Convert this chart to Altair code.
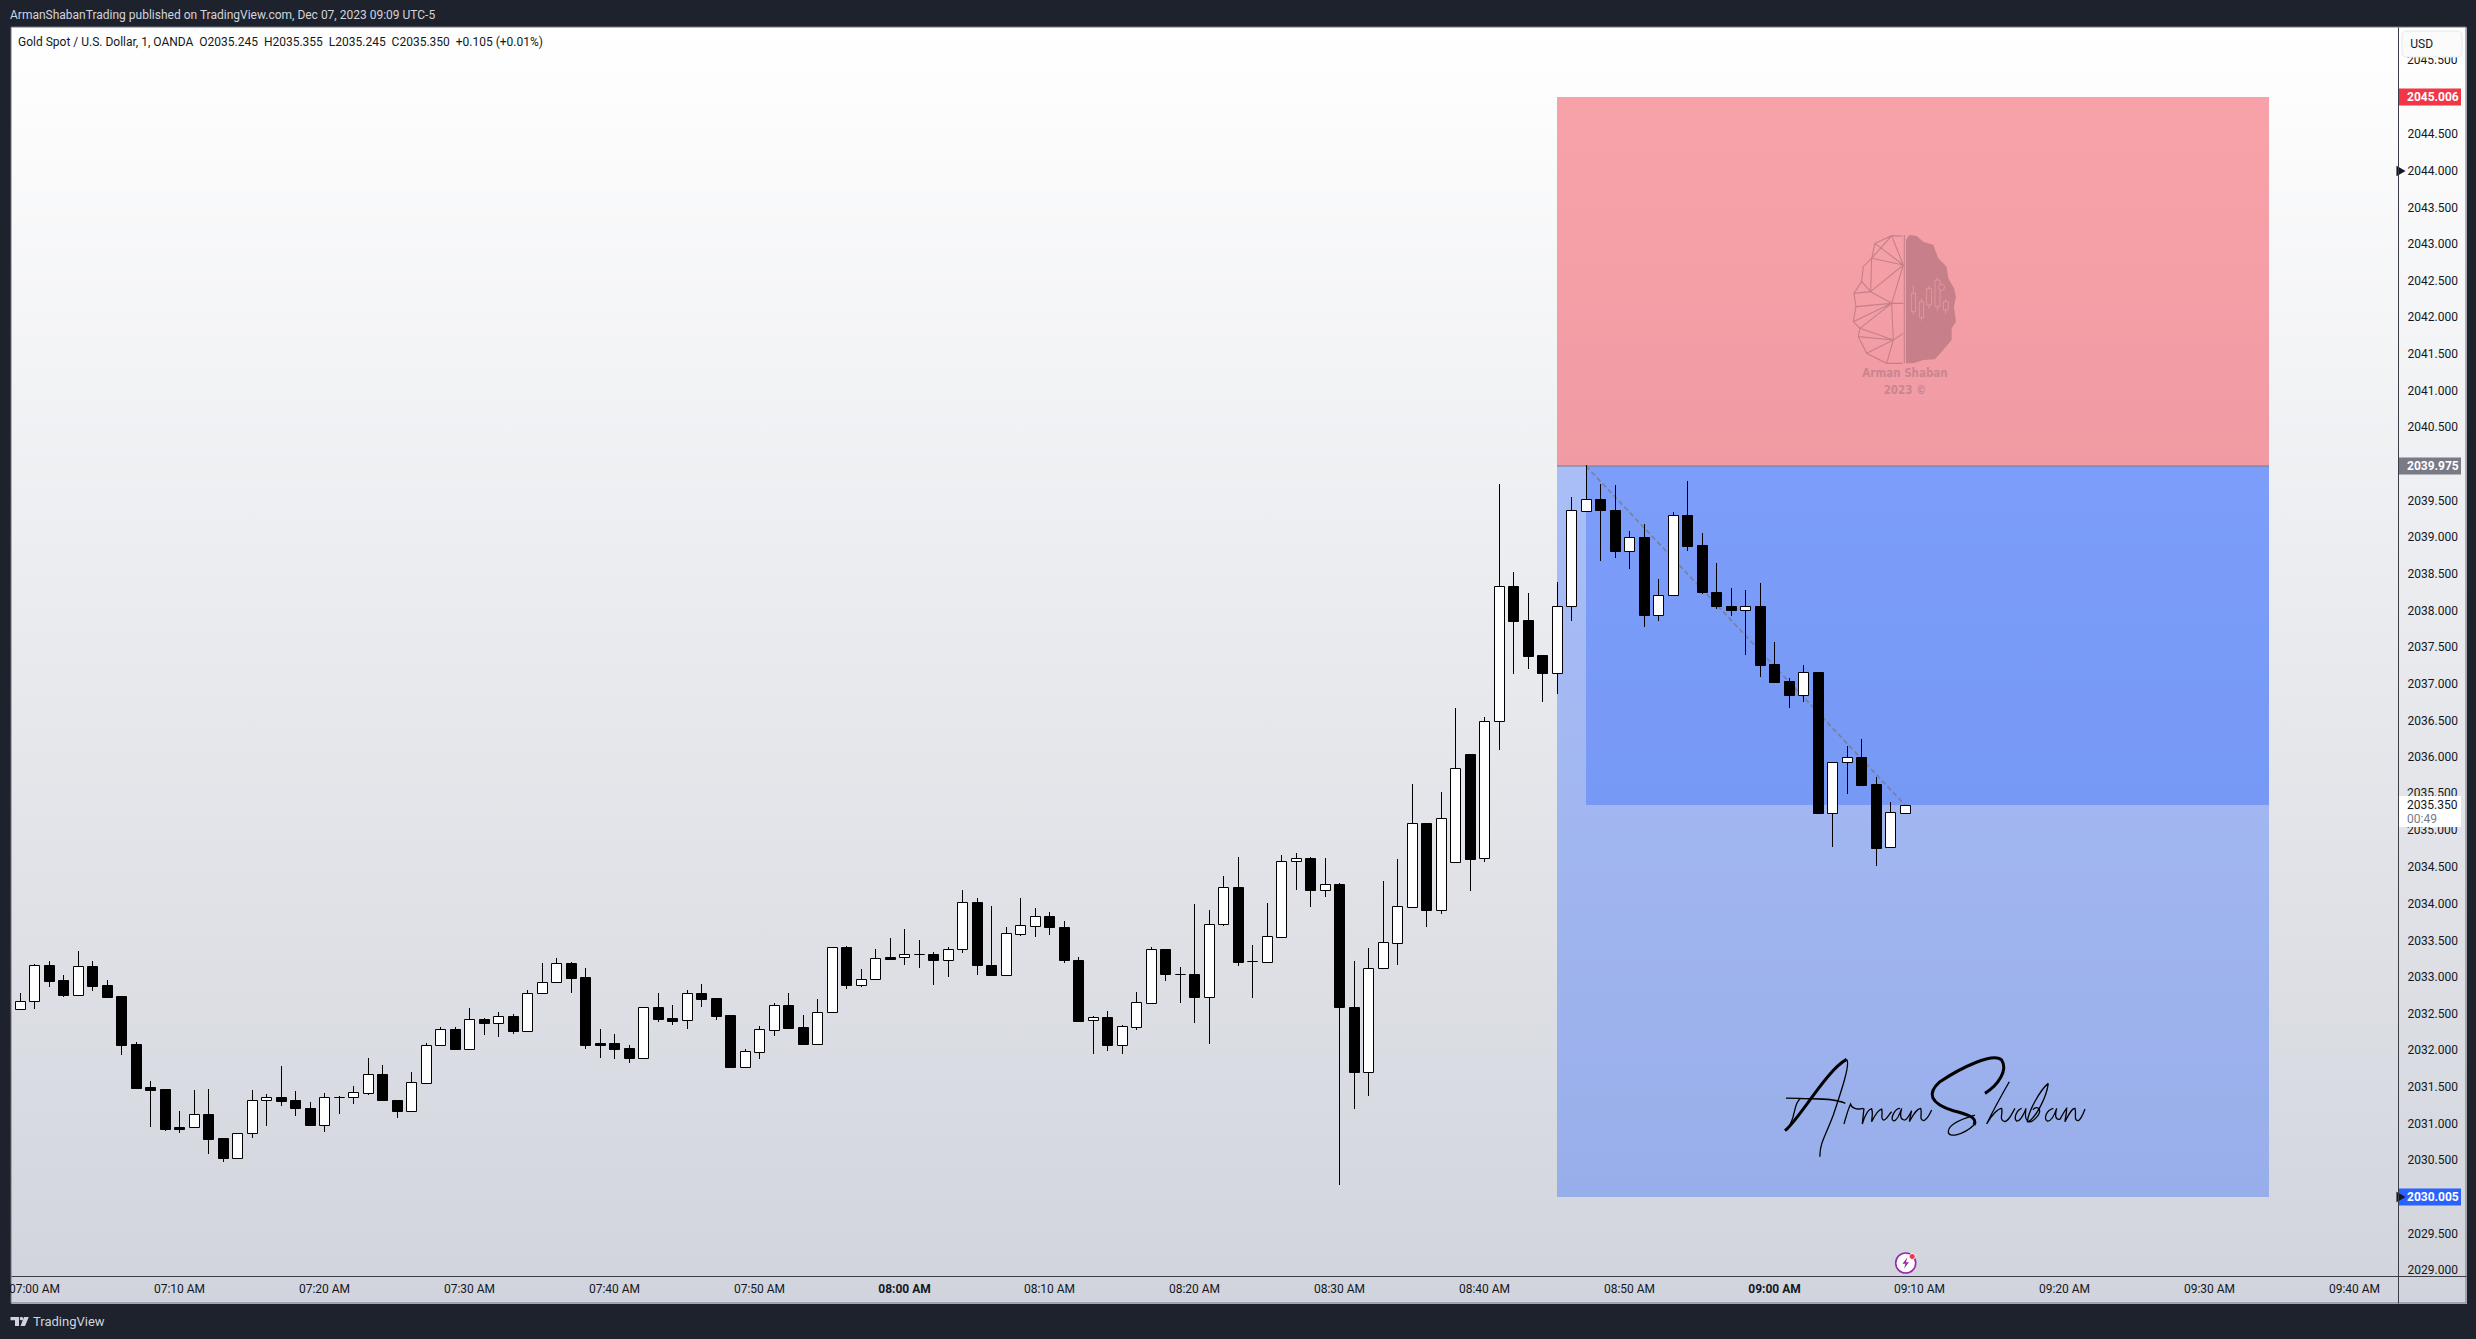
import re
import altair as alt
import pandas as pd

# ---------- data (prices) ----------
FIRST_MINUTE = -1  # minutes after 07:00 of the first candle
OPEN = [2032.57,2032.68,2033.16,2032.96,2032.76,2033.15,2032.89,2032.74,2032.09,2031.50,2031.47,2030.96,2030.95,2031.13,2030.80,2030.54,2030.88,2031.33,2031.36,2031.32,2031.22,2030.99,2031.36,2031.36,2031.42,2031.68,2031.33,2031.18,2031.56,2032.07,2032.29,2032.02,2032.43,2032.38,
        2032.47,2032.27,2032.79,2032.94,2033.19,2033.00,2032.10,2032.10,2032.03,2031.90,2032.60,2032.44,2032.41,2032.78,2032.71,2032.48,2031.78,2031.98,2032.28,2032.62,2032.32,2032.09,2032.53,2033.41,2032.90,2032.98,2033.27,2033.27,2033.32,2033.32,2033.24,2033.38,2034.03,2033.17,
        2033.03,2033.59,2033.70,2033.84,2033.69,2033.24,2032.41,2032.45,2032.08,2032.32,2032.65,2033.39,2033.05,2033.05,2032.73,2033.73,2034.23,2033.22,2033.21,2033.55,2034.58,2034.62,2034.19,2034.27,2032.60,2031.71,2033.13,2033.47,2033.96,2035.10,2033.92,2034.57,2036.05,2034.62,
        2036.49,2038.33,2037.87,2037.39,2037.15,2038.07,2039.36,2039.53,2039.38,2038.82,2039.00,2037.94,2038.22,2039.31,2038.89,2038.26,2038.07,2038.01,2038.07,2037.27,2037.04,2036.85,2037.17,2035.24,2035.93,2036.00,2035.63,2034.77,2035.245]
HIGH = [2032.78,2033.18,2033.22,2033.03,2033.36,2033.22,2032.96,2032.74,2032.12,2031.58,2031.47,2031.17,2031.46,2031.47,2030.80,2030.88,2031.46,2031.41,2031.79,2031.45,2031.30,2031.42,2031.38,2031.52,2031.90,2031.80,2031.33,2031.71,2032.10,2032.32,2032.32,2032.58,2032.44,2032.53,
        2032.50,2032.82,2033.19,2033.26,2033.21,2033.12,2032.29,2032.22,2032.07,2032.60,2032.78,2032.62,2032.82,2032.91,2032.71,2032.48,2032.02,2032.33,2032.65,2032.78,2032.48,2032.70,2033.41,2033.42,2033.11,2033.38,2033.53,2033.66,2033.51,2033.34,2033.41,2034.19,2034.08,2033.97,
        2033.68,2034.08,2033.94,2033.89,2033.77,2033.28,2032.47,2032.54,2032.35,2032.80,2033.41,2033.39,2033.14,2034.00,2033.92,2034.38,2034.64,2033.44,2034.01,2034.67,2034.69,2034.64,2034.63,2034.29,2033.22,2033.40,2034.31,2034.61,2035.64,2035.10,2035.53,2036.67,2036.05,2036.55,
        2039.73,2038.53,2038.24,2037.39,2038.39,2039.55,2039.99,2039.73,2039.71,2039.09,2039.18,2038.43,2039.35,2039.77,2039.06,2038.65,2038.31,2038.28,2038.38,2037.57,2037.08,2037.26,2037.17,2035.93,2036.15,2036.25,2035.73,2035.39,2035.355]
LOW = [2032.57,2032.57,2032.87,2032.73,2032.76,2032.81,2032.72,2031.94,2031.49,2030.96,2030.90,2030.87,2030.95,2030.59,2030.48,2030.54,2030.81,2030.97,2031.24,2031.11,2030.98,2030.89,2031.13,2031.27,2031.39,2031.33,2031.08,2031.18,2031.54,2032.07,2032.02,2032.02,2032.21,2032.18,
       2032.22,2032.27,2032.77,2032.92,2032.78,2032.02,2031.90,2031.88,2031.83,2031.90,2032.39,2032.35,2032.29,2032.59,2032.42,2031.77,2031.78,2031.88,2032.20,2032.31,2032.09,2032.09,2032.53,2032.84,2032.87,2032.98,2033.25,2033.17,2033.12,2032.89,2033.00,2033.33,2033.03,2033.03,
       2033.03,2033.56,2033.55,2033.58,2033.19,2032.40,2031.95,2031.99,2031.95,2032.28,2032.65,2032.95,2032.65,2032.37,2032.09,2033.70,2033.15,2032.72,2033.21,2033.55,2034.19,2033.96,2034.09,2030.17,2031.20,2031.38,2033.13,2033.17,2033.94,2033.68,2033.86,2034.57,2034.18,2034.57,
       2036.10,2037.14,2037.20,2036.75,2036.86,2037.86,2039.36,2038.68,2038.72,2038.57,2037.78,2037.86,2038.20,2038.81,2038.23,2038.02,2037.93,2037.40,2037.10,2037.01,2036.67,2036.75,2035.24,2034.78,2035.50,2035.62,2034.52,2034.77,2035.245]
CLOSE = [2032.68,2033.16,2032.95,2032.76,2033.15,2032.88,2032.73,2032.08,2031.49,2031.46,2030.93,2030.93,2031.13,2030.79,2030.53,2030.88,2031.33,2031.36,2031.31,2031.22,2030.98,2031.36,2031.36,2031.43,2031.68,2031.33,2031.17,2031.57,2032.07,2032.29,2032.02,2032.43,2032.38,2032.47,
         2032.27,2032.79,2032.94,2033.19,2032.99,2032.07,2032.07,2032.02,2031.90,2032.60,2032.43,2032.40,2032.78,2032.70,2032.47,2031.77,2031.99,2032.29,2032.62,2032.31,2032.09,2032.53,2033.41,2032.89,2032.98,2033.26,2033.25,2033.32,2033.32,2033.23,2033.38,2034.03,2033.17,2033.03,
         2033.60,2033.71,2033.84,2033.68,2033.23,2032.40,2032.45,2032.08,2032.33,2032.66,2033.39,2033.04,2033.05,2032.73,2033.73,2034.23,2033.21,2033.22,2033.56,2034.58,2034.62,2034.19,2034.27,2032.59,2031.71,2033.13,2033.48,2033.97,2035.10,2033.92,2035.17,2035.85,2034.61,2036.49,
         2038.33,2037.86,2037.38,2037.15,2038.07,2039.37,2039.53,2039.37,2038.81,2039.00,2037.94,2038.22,2039.31,2038.88,2038.25,2038.06,2038.01,2038.07,2037.26,2037.03,2036.85,2037.17,2035.24,2035.93,2036.00,2035.62,2034.76,2035.25,2035.35]
PRICE_TICKS = [2029 + 0.5 * i for i in range(34)]
PRICE_TICKS_UNDER_TAGS = [2045.5, 2035.5, 2035.0]   # partly hidden by the USD button and the last-price tag
PRICE_TICKS_AXIS = [p for p in PRICE_TICKS if p not in (2045.0, 2045.5, 2040.0, 2035.5, 2035.0, 2030.0)]
TIME_TICK_MINUTES = [10 * i for i in range(17)]
TIME_TICK_LABELS = ["07:00 AM","07:10 AM","07:20 AM","07:30 AM","07:40 AM","07:50 AM","08:00 AM","08:10 AM","08:20 AM","08:30 AM","08:40 AM","08:50 AM","09:00 AM","09:10 AM","09:20 AM","09:30 AM","09:40 AM"]
ZONE_LEFT, ZONE_INNER, ZONE_RIGHT = 105, 107, 154.15
STOP, ENTRY, CLOSE_NOW, TARGET = 2045.006, 2039.975, 2035.35, 2030.005
LAST_MINUTE = 129
HEADER = "ArmanShabanTrading published on TradingView.com, Dec 07, 2023 09:09 UTC-5"
LEGEND = "Gold Spot / U.S. Dollar, 1, OANDA\u00a0\u00a0O2035.245\u00a0\u00a0H2035.355\u00a0\u00a0L2035.245\u00a0\u00a0C2035.350\u00a0\u00a0+0.105 (+0.01%)"

FONT = "Roboto"
FS = 12
W, H = 2455, 1276
ox, oy = 11, 27  # page position of the plot origin

n = len(OPEN)
df = pd.DataFrame({"m": [FIRST_MINUTE + i for i in range(n)], "o": OPEN, "h": HIGH, "l": LOW, "c": CLOSE})
df["dir"] = ["up" if c >= o else "down" for o, c in zip(OPEN, CLOSE)]

xs = alt.Scale(domain=[-23 / 14.5, (W - 23) / 14.5], zero=False, nice=False, round=True, padding=0)
ys = alt.Scale(domain=[2028.555, 2045.963], zero=False, nice=False, round=True, padding=0)
X = alt.X("m:Q", scale=xs, axis=None)
Y = alt.Y("y:Q", scale=ys, axis=None)

def px(v): return alt.value(v - ox)
def py(v): return alt.value(v - oy)

def label(text, x, y, size=FS, color="#131722", align="left", weight="normal", font=FONT, opacity=1):
    return alt.Chart(pd.DataFrame({"t": [text]})).mark_text(
        align=align, baseline="middle", fontSize=size, color=color, fontWeight=weight, font=font, opacity=opacity
    ).encode(x=px(x), y=py(y), text="t:N")

def norm_path(s, cx, cy, k):
    out, is_x = [], True
    for tok in re.findall(r"[A-Za-z]|-?[\d.]+", s):
        if tok.isalpha():
            out.append(tok); is_x = True
        else:
            v = float(tok)
            out.append(f"{(v - cx) / k:.4f}" if is_x else f"{(v - cy) / k:.4f}")
            is_x = not is_x
    return " ".join(out)

def shape(path, x, y, size, fill=None, stroke=None, sw=1.0, opacity=1.0):
    kw = dict(shape=path, size=size, opacity=opacity, strokeWidth=sw, filled=fill is not None)
    if fill is not None:
        kw["fill"] = fill
        kw["stroke"] = stroke if stroke else fill
    else:
        kw["stroke"] = stroke
        kw["fill"] = "transparent"
    return alt.Chart(pd.DataFrame({"a": [0]})).mark_point(**kw).encode(x=px(x), y=py(y))

# ---------- panel gradient ----------
panel = alt.Chart(pd.DataFrame({"a": [0]})).mark_rect(
    fill=alt.LinearGradient(gradient="linear", x1=0, y1=0, x2=0, y2=1,
                            stops=[alt.GradientStop(offset=0, color="#ffffff"), alt.GradientStop(offset=1, color="#d1d4dc")]),
    stroke="#70737d", strokeWidth=1,
).encode(x=alt.value(0), x2=alt.value(W), y=alt.value(0), y2=alt.value(H))

# ---------- axes ----------
time_expr = str(TIME_TICK_LABELS) + "[datum.value/10]"
axis_layer = alt.Chart(pd.DataFrame({"m": TIME_TICK_MINUTES[:1], "y": PRICE_TICKS[:1]})).mark_rule(opacity=0).encode(
    x=alt.X("m:Q", scale=xs, axis=alt.Axis(
        values=TIME_TICK_MINUTES, labelExpr=time_expr, title=None, grid=False, ticks=False,
        orient="bottom", offset=-27, domainColor="#3b3e46", domainWidth=1, zindex=1,
        labelFont=FONT, labelFontSize=FS, labelColor="#131722", labelPadding=7,
        labelOverlap=False, labelFlush=False, labelBound=False,
        labelFontWeight={"condition": {"test": "datum.value==60||datum.value==120", "value": "bold"}, "value": "normal"},
    )),
    y=alt.Y("y:Q", scale=ys, axis=alt.Axis(
        values=PRICE_TICKS_AXIS, format=".3f", title=None, grid=False, ticks=False,
        orient="right", offset=-(W - 2387), domainColor="#3b3e46", domainWidth=1, zindex=1,
        labelFont=FONT, labelFontSize=FS, labelColor="#131722", labelPadding=9, labelOffset=-1,
        labelOverlap=False, labelFlush=False, labelBound=False,
    )),
)
wicks = alt.Chart(df).mark_rule(color="black", strokeWidth=1, xOffset=0.5).encode(
    x=X, y=alt.Y("l:Q", scale=ys, axis=None), y2="h:Q")
bodies = alt.Chart(df).mark_bar(size=10, stroke="black", strokeWidth=1, orient="vertical",
                                xOffset=0.5, yOffset=0.5, y2Offset=0.5).encode(
    x=X,
    y=alt.Y("o:Q", scale=ys, axis=None, stack=None),
    y2="c:Q",
    color=alt.Color("dir:N", scale=alt.Scale(domain=["up", "down"], range=["#ffffff", "#000000"]), legend=None),
)

# ---------- price labels lying under the tags ----------
under = alt.Chart(pd.DataFrame({"y": PRICE_TICKS_UNDER_TAGS, "t": [f"{p:.3f}" for p in PRICE_TICKS_UNDER_TAGS]})).mark_text(
    align="left", baseline="middle", font=FONT, fontSize=FS, color="#131722", dy=-1).encode(x=px(2407), y=Y, text="t:N")

# ---------- position tool zones ----------
def zone(x0, x1, lo, hi, color, op):
    d = pd.DataFrame({"x0": [x0], "x1": [x1], "lo": [lo], "hi": [hi]})
    return alt.Chart(d).mark_rect(color=color, opacity=op).encode(
        x=alt.X("x0:Q", scale=xs, axis=None), x2="x1:Q",
        y=alt.Y("lo:Q", scale=ys, axis=None), y2="hi:Q")

red = zone(ZONE_LEFT, ZONE_RIGHT, ENTRY, STOP, "#f23645", 0.46)
blue = zone(ZONE_LEFT, ZONE_RIGHT, TARGET, ENTRY, "#2962ff", 0.35)
blue2 = zone(ZONE_INNER, ZONE_RIGHT, CLOSE_NOW, ENTRY, "#2962ff", 0.35)
entry_line = alt.Chart(pd.DataFrame({"x0": [ZONE_LEFT], "x1": [ZONE_RIGHT], "y": [ENTRY]})).mark_rule(
    color="#787b86", strokeWidth=1).encode(x=alt.X("x0:Q", scale=xs, axis=None), x2="x1:Q", y=Y)
dash = alt.Chart(pd.DataFrame({"m": [ZONE_INNER, LAST_MINUTE], "y": [ENTRY, CLOSE_NOW]})).mark_line(
    color="#787b86", strokeWidth=1.6, strokeDash=[5, 3], opacity=0.85).encode(x=X, y=Y)

# ---------- watermark logo ----------
LOGO = (463, 297, 195)
logo_fill = "M468 120 L478 105 L500 108 L520 125 L550 135 L565 175 L590 200 L595 235 L612 265 L618 290 L612 320 L618 365 L605 385 L605 420 L575 455 L555 478 L520 480 L490 490 L468 490 Z"
logo_net = ("M458 108 L425 107 L375 130 L365 175 L340 200 L335 245 L312 280 L318 320 L310 365 L330 385 L325 410 L350 460 L410 490 L458 490 "
            "M463 105 L463 490 M425 107 L365 175 M375 130 L460 195 M425 107 L460 195 M365 175 L460 195 M365 175 L362 275 M460 195 L362 275 "
            "M460 195 L425 310 M362 275 L425 310 M312 280 L362 275 M335 245 L362 275 M318 320 L425 310 M425 310 L460 310 M425 310 L330 385 "
            "M310 365 L425 310 M425 310 L430 420 M430 420 L460 400 M330 385 L430 420 M430 420 L350 460 M430 420 L410 490 M325 410 L430 420")
logo_candles = ("M484 280 L497 280 L497 335 L484 335 Z M490 255 L490 280 M490 335 L490 345 "
                "M508 305 L521 305 L521 352 L508 352 Z M514 296 L514 305 M514 352 L514 362 "
                "M530 265 L545 265 L545 315 L530 315 Z M537 258 L537 265 M537 315 L537 326 "
                "M555 240 L570 240 L570 320 L555 320 Z M562 232 L562 240 M562 320 L562 332 "
                "M580 305 L595 305 L595 330 L580 330 Z M587 298 L587 305 M587 330 L587 342")
logo_cx, logo_cy = 1904.3, 299
logo_size = (2 * 65) ** 2
WM = "DejaVu Sans Condensed, Roboto"
logo_layers = [
    shape(norm_path(logo_fill, *LOGO), logo_cx, logo_cy, logo_size, fill="#c77f89", sw=0),
    shape(norm_path(logo_net, *LOGO), logo_cx, logo_cy, logo_size, stroke="#c48089", sw=1.1),
    shape(norm_path(logo_candles, *LOGO), logo_cx, logo_cy, logo_size, stroke="#eb9aa4", sw=0.8),
    shape("M -1 0 A 1 1 0 1 1 1 0 A 1 1 0 1 1 -1 0 Z", 1941.6, 287.3, 36, fill="#c77f89", stroke="#eb9aa4", sw=0.8),
    label("Arman Shaban", 1905, 374, size=11.5, color="#c98690", align="center", weight="bold", font=WM),
    label("2023 \u00a9", 1905, 391, size=11.5, color="#c98690", align="center", weight="bold", font=WM),
]

# ---------- hand signature ----------
SIG = (700, 200, 455)
sig_thick = ("M255 272 C300 235 380 90 440 58 "
             "M855 160 C895 135 925 90 905 60 C880 35 780 85 720 125 C680 160 690 190 760 212 C800 222 835 232 822 255")
sig_thin = ("M440 58 C452 70 425 150 400 225 C380 280 358 310 360 350 "
            "M258 174 L300 175 C340 178 400 172 436 190 M300 176 C280 195 290 215 270 255 "
            "M432 252 C440 225 445 205 452 192 C455 205 470 210 490 205 "
            "M492 205 C490 225 488 240 487 252 C495 225 505 208 515 206 C520 220 515 235 515 245 C525 225 535 208 545 207 C550 225 540 235 550 240 C560 240 565 225 575 215 "
            "M600 205 C585 205 570 235 580 242 C590 245 600 220 605 205 C600 225 600 240 615 240 C625 235 630 222 635 212 "
            "M635 212 C632 225 630 235 628 245 C640 225 650 205 662 205 C668 220 655 240 672 242 C685 235 690 220 695 210 "
            "M822 255 C790 285 745 295 745 275 C745 250 790 235 825 225 "
            "M928 125 C905 165 880 210 860 252 C875 225 895 205 905 205 C910 220 895 240 915 245 C930 240 935 220 945 205 "
            "M965 205 C950 210 940 235 950 243 C962 245 975 215 978 205 C975 225 975 240 985 243 "
            "M1045 130 C1020 150 985 215 982 245 C1000 250 1030 215 1015 205 C1010 200 1000 205 1000 210 M1045 130 C1040 170 1010 230 985 245 "
            "M1060 205 C1040 210 1030 235 1042 243 C1055 245 1065 220 1070 205 C1065 225 1065 240 1080 238 "
            "M1080 238 C1090 220 1095 210 1100 205 C1100 225 1095 235 1095 245 C1105 225 1115 205 1125 205 C1130 225 1120 240 1135 242 C1145 235 1150 220 1155 207")
sig_cx, sig_cy = 1933.3, 1106.7
sig_size = (2 * 455 / 3) ** 2
sig_layers = [
    shape(norm_path(sig_thin, *SIG), sig_cx, sig_cy, sig_size, stroke="black", sw=1.3),
    shape(norm_path(sig_thick, *SIG), sig_cx, sig_cy, sig_size, stroke="black", sw=3.0),
]

# ---------- right-hand price tags ----------
def tag(price, fill, text, h=17, off=0.0, tcolor="white", weight="bold"):
    d = pd.DataFrame({"y": [price], "t": [text]})
    r = alt.Chart(d).mark_rect(color=fill, height=h, yOffset=off).encode(x=px(2398), x2=px(2461), y=Y)
    t = alt.Chart(d).mark_text(align="left", baseline="middle", font=FONT, fontSize=FS, color=tcolor, fontWeight=weight).encode(
        x=px(2407), y=Y, text="t:N")
    return [r, t]

tags = (tag(STOP, "#f23645", "2045.006") + tag(ENTRY, "#787b86", "2039.975") + tag(TARGET, "#2962ff", "2030.005")
        + tag(CLOSE_NOW, "#ffffff", "2035.350", h=31, off=6.5, tcolor="#131722", weight="normal"))
countdown = alt.Chart(pd.DataFrame({"y": [CLOSE_NOW], "t": ["00:49"]})).mark_text(
    align="left", baseline="middle", font=FONT, fontSize=FS, color="#787b86", dy=14).encode(x=px(2407), y=Y, text="t:N")
markers = alt.Chart(pd.DataFrame({"y": [2044.0, TARGET]})).mark_point(
    shape="triangle-right", filled=True, color="#131722", size=110, opacity=1).encode(x=px(2401), y=Y)

usd_box = alt.Chart(pd.DataFrame({"a": [0]})).mark_rect(
    fill="#fbfbfc", stroke="#e6e8ee", strokeWidth=1, cornerRadius=4).encode(x=px(2402), x2=px(2462), y=py(31), y2=py(57))

# ---------- small icon under the candles ----------
icon_x, icon_y = 1905.7, 1263
icon = [
    shape("M -1 0 A 1 1 0 1 1 1 0 A 1 1 0 1 1 -1 0 Z", icon_x, icon_y, 400, fill="#ffffff", stroke="#9c27b0", sw=1.6),
    shape("M 0.3 -1 L -0.6 0.15 L -0.05 0.15 L -0.3 1 L 0.6 -0.15 L 0.05 -0.15 Z", icon_x, icon_y, 120, fill="#9c27b0", sw=0),
    shape("M -1 0 A 1 1 0 1 1 1 0 A 1 1 0 1 1 -1 0 Z", icon_x + 6.5, icon_y - 6.5, 36, fill="#f23645", stroke="#ffffff", sw=1),
]

# ---------- footer TV logo ----------
tv_path = ("M10.5 1317 L19 1317 L19 1326 L15 1326 L15 1320.2 L10.5 1320.2 Z "
           "M20.6 1317 L22.2 1317 L23 1317.8 L23 1319.4 L22.2 1320.2 L20.6 1320.2 L19.8 1319.4 L19.8 1317.8 Z "
           "M24 1317 L28.8 1317 L25 1326 L20.5 1326 Z")
tv_logo = shape(norm_path(tv_path, 19.5, 1321.5, 10), 19.5, 1321.5, 400, fill="#d1d4dc", sw=0)

layers = ([panel, axis_layer, red, blue, blue2, entry_line, dash] + logo_layers + sig_layers + [wicks, bodies, under]
          + tags + [countdown, markers, usd_box] + icon + [tv_logo]
          + [label("USD", 2421.7, 44, align="center"),
             label(HEADER, 10, 15, color="#d1d4dc"),
             label(LEGEND, 18, 42),
             label("TradingView", 33, 1322, size=13, color="#d1d4dc")])

chart = alt.layer(*layers).resolve_axis(x="independent", y="independent").properties(
    width=W, height=H,
    background="#1e222d",
    padding={"left": 3, "top": 19, "right": 2, "bottom": 28},
    autosize=alt.AutoSizeParams(type="none"),
).configure_view(stroke=None).configure(font=FONT)

chart.save("out.html", embed_options={"renderer": "svg", "actions": False, "defaultStyle": "html,body{background:#1e222d}"})
